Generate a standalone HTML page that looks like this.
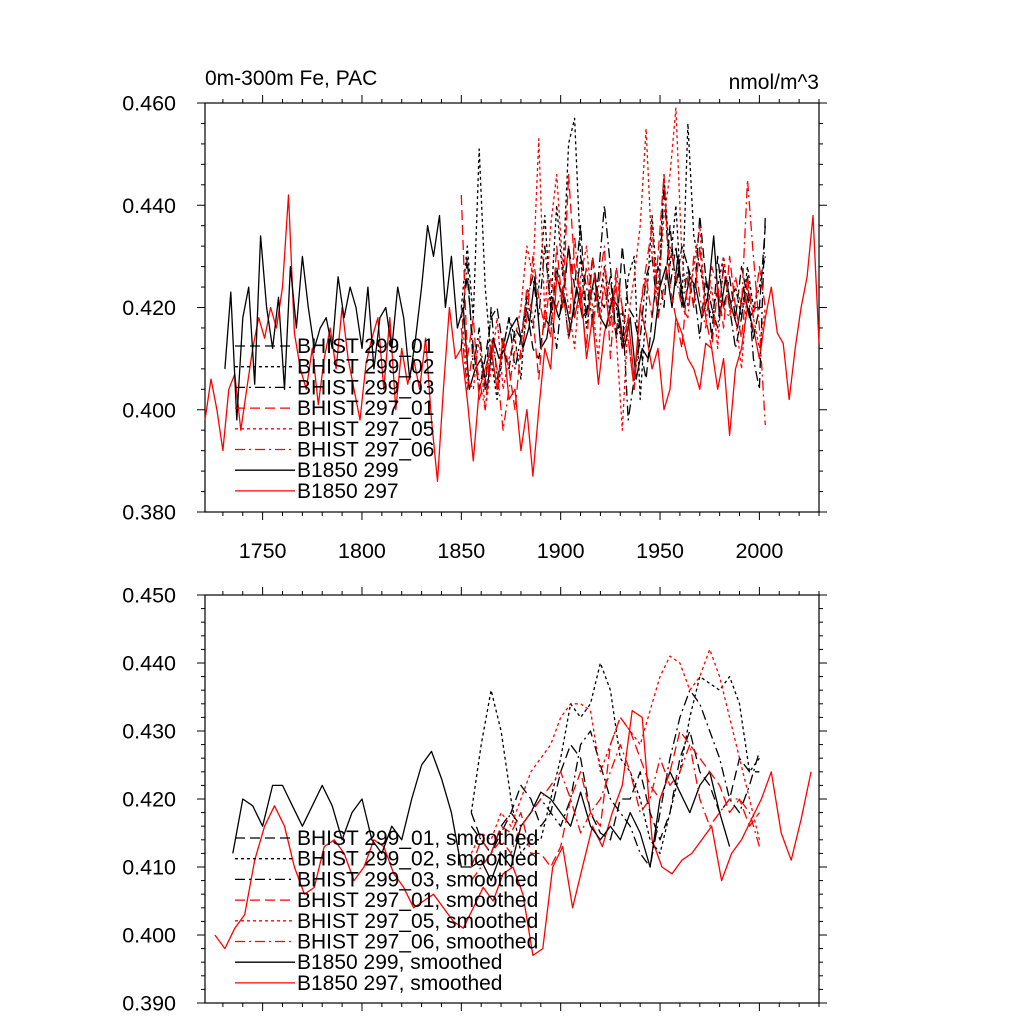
<!DOCTYPE html>
<html><head><meta charset="utf-8"><style>
body{margin:0;background:#fff}
svg{display:block;font-family:"Liberation Sans",sans-serif}
</style></head><body>
<svg id="chart" width="1024" height="1024" viewBox="0 0 1024 1024" xmlns="http://www.w3.org/2000/svg"></svg>
<script>
// ---- top panel data (annual, sampled every 3 years) ----
const topB297Start = 1721;
const topB297 = [.398,.406,.400,.392,.404,.407,.396,.404,.412,.418,.414,.420,.416,.424,.442,.415,.408,.404,.412,.401,.410,.416,.408,.420,.410,.404,.398,.409,.414,.418,.404,.418,.400,.412,.405,.410,.404,.414,.398,.386,.404,.420,.410,.412,.402,.390,.404,.408,.412,.404,.414,.402,.404,.392,.400,.387,.400,.412,.408,.426,.422,.432,.418,.424,.410,.418,.405,.415,.420,.424,.412,.418,.406,.420,.415,.408,.412,.400,.404,.418,.415,.410,.408,.404,.413,.412,.404,.410,.395,.408,.412,.420,.416,.410,.418,.424,.415,.413,.402,.412,.420,.426,.438,.413];
const topB299Start = 1731;
const topB299 = [.408,.423,.398,.418,.424,.405,.434,.420,.412,.422,.404,.428,.416,.430,.420,.412,.416,.418,.412,.426,.418,.424,.420,.412,.424,.408,.418,.420,.412,.424,.418,.406,.414,.424,.436,.430,.438,.420,.430,.416,.420,.404,.408,.410,.404,.414,.410,.412,.416,.418,.412,.416,.426,.412,.414,.422,.418,.422,.416,.424,.418,.420,.426,.418,.416,.422,.420,.412,.418,.406,.412,.410,.414,.424,.428,.420,.430,.420,.426,.424,.418,.422,.434,.418,.426,.420,.416,.424,.418,.420,.420];
const topHistStart = 1850;
const topH299_01 = [.418,.426,.412,.404,.410,.418,.420,.412,.408,.416,.414,.420,.412,.410,.418,.416,.428,.420,.432,.424,.436,.418,.430,.422,.420,.426,.414,.432,.420,.418,.412,.406,.418,.428,.420,.436,.424,.432,.428,.420,.438,.426,.414,.430,.420,.426,.418,.428,.422,.414,.420,.436];
const topH299_02 = [.420,.432,.418,.451,.424,.410,.402,.412,.418,.414,.406,.422,.416,.424,.438,.420,.440,.426,.452,.457,.430,.416,.424,.420,.428,.418,.420,.412,.426,.430,.402,.420,.438,.422,.446,.428,.440,.420,.456,.434,.428,.422,.418,.424,.430,.420,.424,.418,.428,.420,.424,.430];
const topH299_03 = [.412,.430,.408,.416,.404,.420,.406,.412,.418,.408,.414,.422,.426,.418,.432,.420,.412,.424,.414,.420,.430,.424,.418,.426,.440,.428,.414,.420,.398,.406,.414,.426,.430,.418,.444,.424,.432,.420,.428,.424,.414,.426,.420,.416,.428,.420,.412,.418,.426,.410,.404,.438];
const topH297_01 = [.442,.410,.418,.402,.406,.412,.404,.414,.408,.400,.412,.424,.418,.406,.420,.414,.432,.420,.446,.428,.422,.412,.430,.418,.424,.416,.428,.420,.414,.404,.420,.426,.418,.430,.446,.424,.418,.412,.426,.420,.432,.418,.412,.424,.416,.430,.420,.414,.426,.418,.428,.420];
const topH297_05 = [.420,.406,.404,.414,.400,.408,.418,.404,.410,.414,.420,.432,.426,.453,.418,.436,.446,.428,.420,.412,.426,.432,.420,.410,.428,.422,.414,.396,.418,.426,.436,.455,.430,.422,.438,.446,.459,.430,.420,.428,.436,.418,.424,.412,.430,.420,.418,.408,.424,.418,.412,.420];
const topH297_06 = [.416,.404,.412,.406,.400,.414,.408,.396,.404,.412,.410,.418,.430,.422,.416,.426,.420,.424,.414,.434,.420,.428,.416,.424,.432,.410,.426,.420,.414,.404,.420,.428,.436,.418,.424,.432,.426,.420,.418,.430,.422,.416,.428,.424,.420,.418,.426,.420,.445,.430,.416,.397];
// ---- bottom panel data (smoothed, every 5 years) ----
const botB297Start = 1726;
const botB297 = [.400,.398,.401,.403,.411,.416,.419,.416,.410,.406,.407,.413,.414,.412,.408,.410,.414,.413,.409,.407,.404,.405,.406,.404,.402,.401,.404,.407,.405,.409,.410,.406,.397,.398,.410,.413,.404,.410,.416,.413,.418,.422,.433,.432,.414,.410,.409,.411,.412,.414,.416,.408,.412,.414,.417,.420,.424,.415,.411,.417,.424];
const botB299Start = 1735;
const botB299 = [.412,.420,.419,.416,.422,.422,.419,.416,.419,.422,.419,.414,.418,.420,.414,.412,.416,.414,.420,.425,.427,.423,.418,.410,.410,.411,.408,.412,.410,.416,.418,.421,.420,.418,.416,.421,.416,.414,.416,.414,.418,.415,.410,.420,.424,.421,.418,.422,.424,.418,.413];
const botHistStart = 1855;
const botH299_01 = [.418,.414,.412,.416,.418,.422,.420,.416,.418,.424,.428,.426,.418,.415,.414,.420,.420,.424,.418,.414,.418,.426,.430,.424,.422,.418,.420,.426,.424,.424];
const botH299_02 = [.418,.428,.436,.430,.420,.412,.414,.414,.420,.426,.434,.432,.434,.440,.436,.426,.424,.420,.414,.412,.418,.424,.432,.438,.437,.436,.438,.434,.424,.426];
const botH299_03 = [.416,.414,.412,.415,.418,.416,.418,.420,.418,.416,.420,.428,.430,.425,.420,.418,.416,.412,.410,.418,.426,.432,.436,.434,.430,.426,.420,.418,.422,.427];
const botH297_01 = [.410,.414,.412,.416,.415,.418,.412,.412,.410,.413,.420,.424,.418,.416,.428,.432,.430,.426,.422,.420,.424,.430,.428,.426,.424,.422,.418,.420,.416,.418];
const botH297_05 = [.412,.415,.414,.418,.416,.420,.424,.426,.428,.432,.434,.434,.433,.424,.428,.432,.430,.428,.433,.438,.441,.440,.436,.438,.442,.438,.432,.426,.420,.414];
const botH297_06 = [.408,.410,.412,.414,.412,.416,.418,.420,.422,.424,.420,.415,.418,.420,.424,.428,.424,.418,.420,.426,.422,.424,.428,.420,.416,.418,.420,.420,.418,.413];
const xTickLabels = ["1750","1800","1850","1900","1950","2000"];
const topYTicks = ["0.380","0.400","0.420","0.440","0.460"];
const botYTicks = ["0.390","0.400","0.410","0.420","0.430","0.440","0.450"];
const topLegendLabels = ["BHIST 299_01","BHIST 299_02","BHIST 299_03","BHIST 297_01","BHIST 297_05","BHIST 297_06","B1850 299","B1850 297"];
const botLegendLabels = topLegendLabels.map(s=>s+", smoothed");

const NS="http://www.w3.org/2000/svg";
const svg=document.getElementById('chart');
function el(tag,attrs,parent){const e=document.createElementNS(NS,tag);for(const k in attrs)e.setAttribute(k,attrs[k]);(parent||svg).appendChild(e);return e;}
const X0=205,X1=819,XMIN=1721,XMAX=2030;
const xs=v=>X0+(v-XMIN)/(XMAX-XMIN)*(X1-X0);
const panels=[
 {top:103,bot:512,min:.38,max:.46,major:.02,minor:.004,ticks:topYTicks,labelsX:true,name:'top-panel'},
 {top:595,bot:1003,min:.39,max:.45,major:.01,minor:.002,ticks:botYTicks,labelsX:false,name:'bottom-panel'}];
panels.forEach(p=>{p.ys=v=>p.bot-(v-p.min)/(p.max-p.min)*(p.bot-p.top);});
const styles=[
 {c:'#000',d:'10 5'},{c:'#000',d:'3 3'},{c:'#000',d:'10 4 2 4'},
 {c:'#f00',d:'10 5'},{c:'#f00',d:'3 3'},{c:'#f00',d:'10 4 2 4'},
 {c:'#000',d:''},{c:'#f00',d:''}];
function series(p,start,step,vals,st,name){
 const pts=vals.map((v,i)=>xs(start+i*step).toFixed(1)+','+p.ys(v).toFixed(1)).join(' ');
 const pl=el('polyline',{points:pts,fill:'none',stroke:st.c,'stroke-width':1.3,'stroke-linejoin':'round'});
 if(st.d)pl.setAttribute('stroke-dasharray',st.d);
 
 
}
function axes(p){
 const g=el('g',{});
 
 
 el('rect',{x:X0,y:p.top,width:X1-X0,height:p.bot-p.top,fill:'none',stroke:'#000','stroke-width':1.2},g);
 for(let yr=1730;yr<=2030;yr+=10){
  const x=xs(yr),maj=yr%50===0,L=maj?8:4;
  el('line',{x1:x,x2:x,y1:p.bot,y2:p.bot+L,stroke:'#000'},g);
  el('line',{x1:x,x2:x,y1:p.top,y2:p.top-L,stroke:'#000'},g);
 }
 const n=Math.round((p.max-p.min)/p.minor);
 for(let i=0;i<=n;i++){
  const v=p.min+i*p.minor,y=p.ys(v),maj=i%Math.round(p.major/p.minor)===0,L=maj?8:4;
  el('line',{x1:X0,x2:X0-L,y1:y,y2:y,stroke:'#000'},g);
  el('line',{x1:X1,x2:X1+L,y1:y,y2:y,stroke:'#000'},g);
 }
 p.ticks.forEach((t,i)=>{
  const tx=el('text',{x:176,y:p.ys(p.min+i*p.major)+7.5,'font-size':21.5,'text-anchor':'end'},g);
  tx.textContent=t;
  
  
 });
 if(p.labelsX)xTickLabels.forEach(t=>{
  const tx=el('text',{x:xs(+t),y:p.bot+46,'font-size':21.5,'text-anchor':'middle'},g);
  tx.textContent=t;
  
  
 });
}
function legend(p,labels,y0){
 labels.forEach((lab,i)=>{
  const y=y0+i*20.7,st=styles[i];
  const ln=el('line',{x1:235,x2:295,y1:y,y2:y,stroke:st.c,'stroke-width':1.3});
  if(st.d)ln.setAttribute('stroke-dasharray',st.d);
  
  
  const tx=el('text',{x:297,y:y+7,'font-size':21});
  tx.textContent=lab;
  
  
 });
}
const P=panels[0],Q=panels[1];
axes(P);axes(Q);
series(P,topB297Start,3,topB297,styles[7],'b1850-297');
series(P,topB299Start,3,topB299,styles[6],'b1850-299');
series(P,topHistStart,3,topH299_01,styles[0],'bhist-299-01');
series(P,topHistStart,3,topH299_02,styles[1],'bhist-299-02');
series(P,topHistStart,3,topH299_03,styles[2],'bhist-299-03');
series(P,topHistStart,3,topH297_01,styles[3],'bhist-297-01');
series(P,topHistStart,3,topH297_05,styles[4],'bhist-297-05');
series(P,topHistStart,3,topH297_06,styles[5],'bhist-297-06');
series(Q,botB297Start,5,botB297,styles[7],'b1850-297-smoothed');
series(Q,botB299Start,5,botB299,styles[6],'b1850-299-smoothed');
series(Q,botHistStart,5,botH299_01,styles[0],'bhist-299-01-smoothed');
series(Q,botHistStart,5,botH299_02,styles[1],'bhist-299-02-smoothed');
series(Q,botHistStart,5,botH299_03,styles[2],'bhist-299-03-smoothed');
series(Q,botHistStart,5,botH297_01,styles[3],'bhist-297-01-smoothed');
series(Q,botHistStart,5,botH297_05,styles[4],'bhist-297-05-smoothed');
series(Q,botHistStart,5,botH297_06,styles[5],'bhist-297-06-smoothed');
legend(P,topLegendLabels,346);
legend(Q,botLegendLabels,838);
const t1=el('text',{x:205,y:85,'font-size':21});
t1.textContent='0m-300m Fe, PAC';


const t2=el('text',{x:819,y:89,'font-size':21,'text-anchor':'end'});
t2.textContent='nmol/m^3';


</script>
</body></html>
